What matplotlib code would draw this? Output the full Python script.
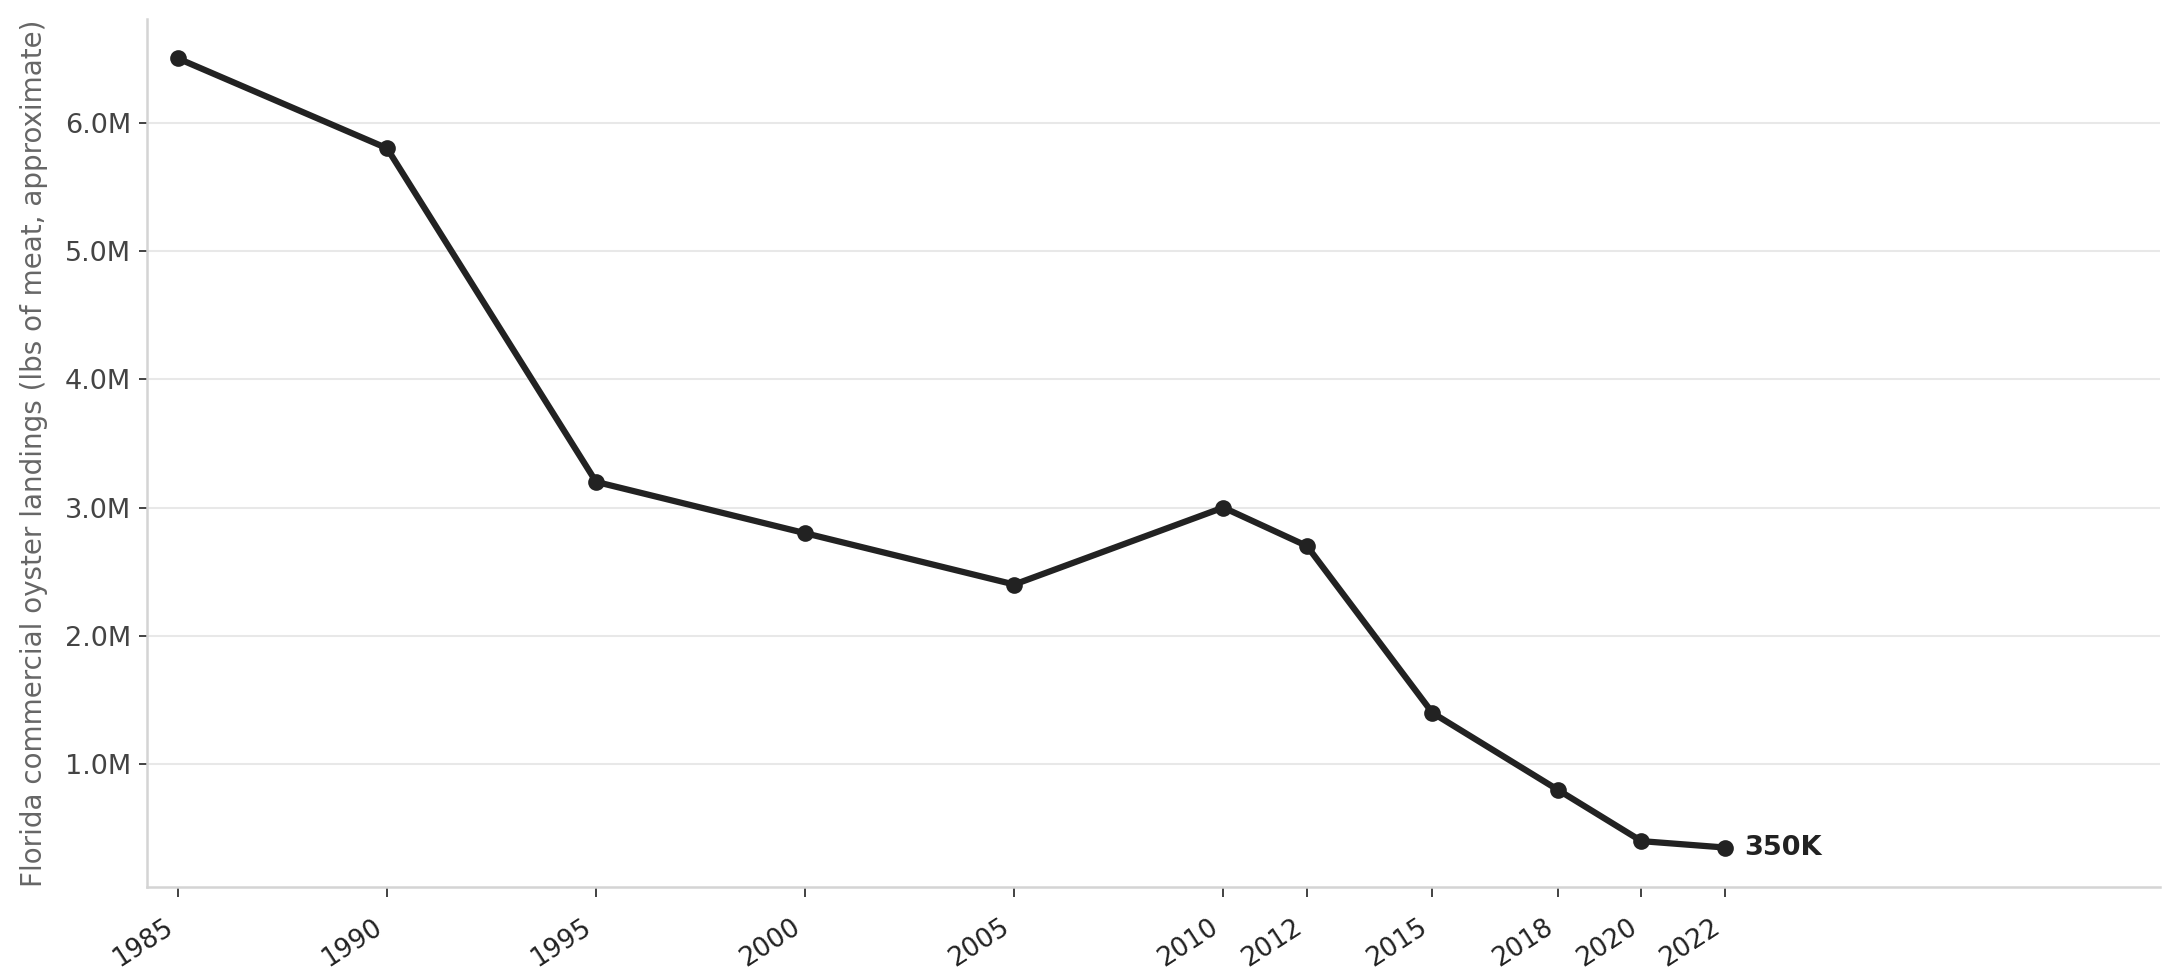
import matplotlib
matplotlib.use("Agg")
import matplotlib.pyplot as plt
from matplotlib.ticker import FuncFormatter, MultipleLocator

years = [1985, 1990, 1995, 2000, 2005, 2010, 2012, 2015, 2018, 2020, 2022]
landings = [6.5e6, 5.8e6, 3.2e6, 2.8e6, 2.4e6, 3.0e6, 2.7e6, 1.4e6, 0.8e6, 0.4e6, 0.35e6]
ylabel = "Florida commercial oyster landings (lbs of meat, approximate)"
last_label = "350K"

plt.rcParams['font.family'] = ['DejaVu Sans']
fig = plt.figure(figsize=(2179/150, 980/150), dpi=150)
ax = fig.add_axes([147/2179, 1-887/980, (2160-147)/2179, (887-19)/980])

ax.plot(years, landings, color="#222222", lw=3.0, marker="o", ms=7, zorder=3)
ax.annotate(last_label, (years[-1], landings[-1]), xytext=(9, 0), textcoords="offset points",
            ha="left", va="center", fontsize=13, fontweight="bold", color="#222222")

ax.set_xlim(1984.26, 2032.4)
ax.margins(y=0.05)
ax.set_xticks(years)
ax.set_xticklabels([str(y) for y in years], rotation=33, ha="right",
                   fontsize=12.5, color="#222222")
ax.yaxis.set_major_locator(MultipleLocator(1e6))
ax.yaxis.set_major_formatter(FuncFormatter(lambda v, p: f"{v/1e6:.1f}M"))
ax.tick_params(axis="y", labelsize=13, labelcolor="#444444", color="#222222", length=4)
ax.tick_params(axis="x", color="#222222", length=5, pad=8)
ax.set_ylabel(ylabel, fontsize=13.3, color="#666666", labelpad=8)

ax.grid(axis="y", color="#e8e8e8", lw=1.0)
ax.set_axisbelow(True)
for s in ["top", "right"]:
    ax.spines[s].set_visible(False)
for s in ["left", "bottom"]:
    ax.spines[s].set_color("#d4d4d4")
    ax.spines[s].set_linewidth(1.2)

fig.savefig("out.png", dpi=150)
